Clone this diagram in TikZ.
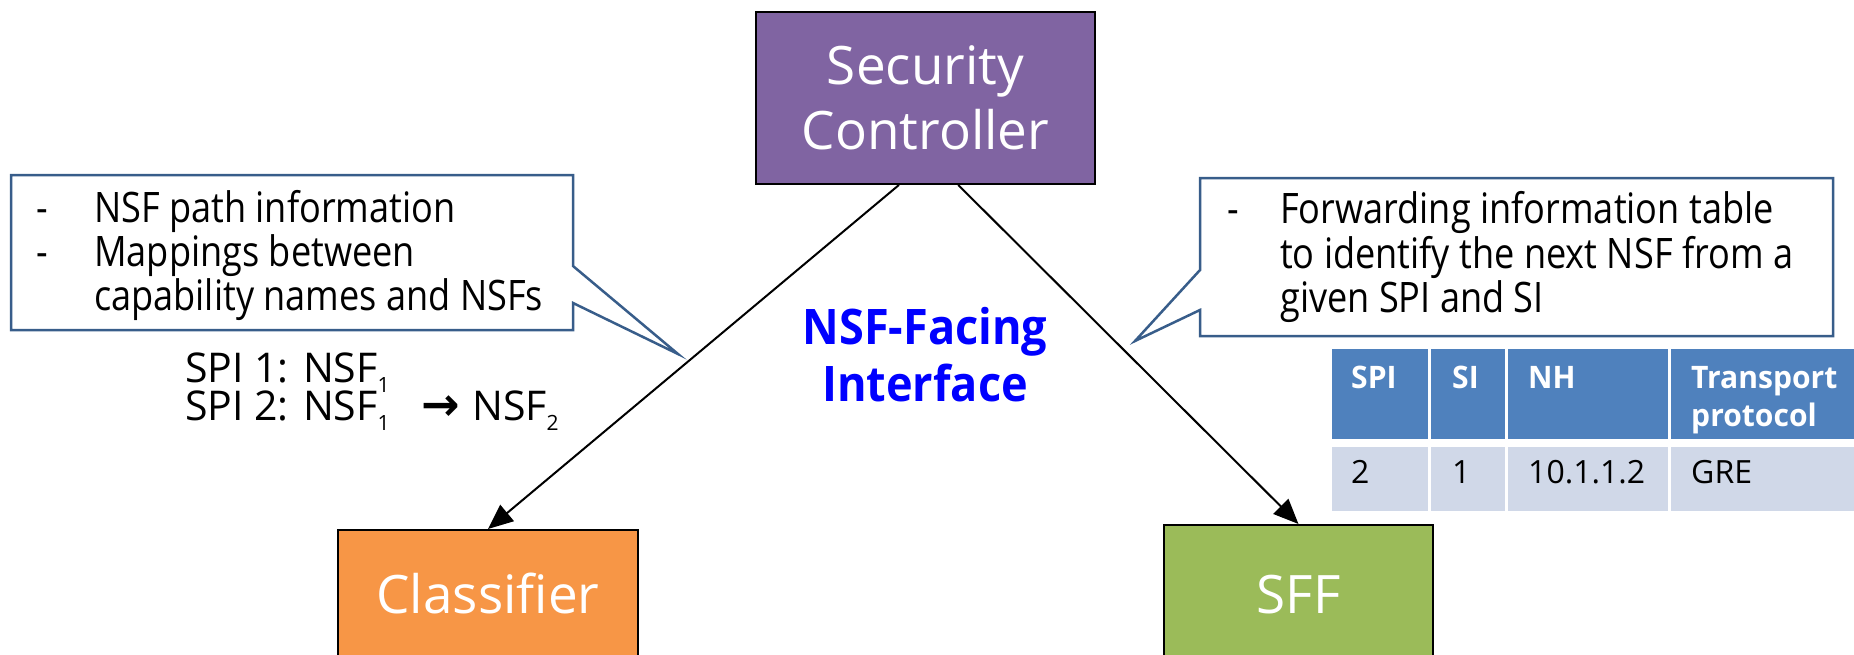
\documentclass[tikz,border=0pt]{standalone}
\usepackage{fontspec}
\setmainfont{Open Sans}
\newfontfamily\notefont{Open Sans}[FakeStretch=0.86]
\newfontfamily\ifacefont{Open Sans}[FakeStretch=0.92]
\newfontfamily\headfont{Open Sans}[FakeStretch=0.97]
\newfontfamily\symfont{DejaVu Sans}
\usetikzlibrary{arrows.meta,calc}

\definecolor{ctrlpurple}{RGB}{128,100,162}
\definecolor{clsorange}{RGB}{247,150,70}
\definecolor{sffgreen}{RGB}{155,187,89}
\definecolor{calloutblue}{RGB}{56,93,138}
\definecolor{thead}{RGB}{79,129,189}
\definecolor{tbody}{RGB}{208,216,232}

% font size in bp with a given baseline skip
\newcommand\fs[2]{\fontsize{#1bp}{#2bp}\selectfont}
% lowered small index, as in NSF_1
\newcommand\idx[1]{\raisebox{-10bp}{\fontsize{21bp}{21bp}\selectfont #1}}
% bold arrow between path elements
\newcommand\pathto{{\symfont\bfseries\fontsize{46bp}{46bp}\selectfont →}}

\begin{document}
\begin{tikzpicture}[x=1bp,y=-1bp,
  box/.style={draw=black, line width=2bp, inner sep=0pt},
  boxtext/.style={anchor=base, inner sep=0pt, text=white, font=\fs{53}{65}},
  conn/.style={line width=2bp, -{Triangle[length=25bp,width=21bp]}},
  callout/.style={draw=calloutblue, line width=2.5bp, fill=white, line join=miter},
  note/.style={anchor=base west, inner sep=0pt, font=\notefont\fs{42}{44}},
  spi/.style={anchor=base west, inner sep=0pt, font=\fs{41}{38}},
  iface/.style={anchor=base, inner sep=0pt, text=blue, font=\ifacefont\bfseries\fs{49}{57}},
  hcell/.style={fill=thead, draw=none},
  bcell/.style={fill=tbody, draw=none},
  htext/.style={anchor=base west, inner sep=0pt, text=white, font=\headfont\bfseries\fs{31}{38}},
  btext/.style={anchor=base west, inner sep=0pt, font=\fs{32}{38}}
]
\useasboundingbox (0,0) rectangle (1854,655);
\clip (0,0) rectangle (1854,655);

% ---- main components ----
\node[box, fill=ctrlpurple, minimum width=339bp, minimum height=172bp] (ctrl) at (925.5,98) {};
\node[boxtext] (ctrltxt1) at (925.5,85) {Security};
\node[boxtext] (ctrltxt2) at (925.5,150) {Controller};

\node[box, fill=clsorange, minimum width=300bp, minimum height=160bp] (cls) at (488,610) {};
\node[boxtext] (clstxt) at (488,613) {Classifier};

\node[box, fill=sffgreen, minimum width=269bp, minimum height=170bp] (sff) at (1298.5,610) {};
\node[boxtext] (sfftxt) at (1298.5,613) {SFF};

% ---- NSF-facing interface connections ----
\draw[conn] ($(ctrl.south west)!0.422!(ctrl.south east)$) -- (cls.north);
\draw[conn] ($(ctrl.south west)!0.596!(ctrl.south east)$) -- (sff.north);

\node[iface] (if1) at (925,344) {NSF-Facing};
\node[iface] (if2) at (925,401) {Interface};

% ---- callout for the classifier ----
\draw[callout] (11,175) -- (573,175) -- (573,266) -- (678,354) -- (573,303)
  -- (573,330) -- (11,330) -- cycle;
\node[note] (ld1) at (36,222) {-};
\node[note] (lt1) at (94,222) {NSF path information};
\node[note] (ld2) at (36,266) {-};
\node[note] (lt2) at (94,266) {Mappings between};
\node[note] (lt3) at (94,310) {capability names and NSFs};

\node[spi] (spi1) at (185,382) {SPI 1: NSF\idx{1}};
\node[spi] (spi2) at (185,420) {SPI 2: NSF\idx{1}\hspace{32bp}\pathto\hspace{12bp}NSF\idx{2}};

% ---- callout for the SFF ----
\draw[callout] (1200,178) -- (1833,178) -- (1833,336) -- (1200,336) -- (1200,310)
  -- (1135,341) -- (1200,270) -- cycle;
\node[note] (rd1) at (1227,223) {-};
\node[note] (rt1) at (1280,223) {Forwarding information table};
\node[note] (rt2) at (1280,268) {to identify the next NSF from a};
\node[note] (rt3) at (1280,312) {given SPI and SI};

% ---- forwarding table ----
\path[hcell] (1332,349) rectangle (1428,439);
\path[hcell] (1431,349) rectangle (1505,439);
\path[hcell] (1508,349) rectangle (1668,439);
\path[hcell] (1671,349) rectangle (1854,439);
\path[bcell] (1332,447) rectangle (1428,511);
\path[bcell] (1431,447) rectangle (1505,511);
\path[bcell] (1508,447) rectangle (1668,511);
\path[bcell] (1671,447) rectangle (1854,511);

\node[htext] (h1) at (1351,388) {SPI};
\node[htext] (h2) at (1452,388) {SI};
\node[htext] (h3) at (1528,388) {NH};
\node[htext] (h4) at (1691,388) {Transport};
\node[htext] (h4b) at (1691,426) {protocol};

\node[btext] (b1) at (1351,483) {2};
\node[btext] (b2) at (1452,483) {1};
\node[btext] (b3) at (1528,483) {10.1.1.2};
\node[btext] (b4) at (1691,483) {GRE};
\end{tikzpicture}
\end{document}
